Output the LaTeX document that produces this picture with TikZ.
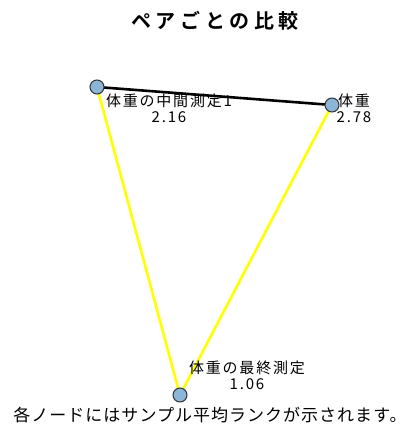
\documentclass[tikz,border=0pt]{standalone}
\usepackage{fontspec}
\setmainfont{Noto Sans CJK JP}
\newfontfamily\jpbold[LetterSpace=23]{Noto Sans CJK JP Bold}
\newfontfamily\jplbl[LetterSpace=12]{Noto Sans CJK JP}
\newfontfamily\jpfoot[LetterSpace=6]{Noto Sans CJK JP}
\definecolor{nodeblue}{HTML}{8CB6D8}
\definecolor{edgeyellow}{HTML}{FFFF00}
\begin{document}
\begin{tikzpicture}[x=1pt,y=-1pt,
  vert/.style={circle,draw=black!80,fill=nodeblue,line width=1pt,minimum size=14pt,inner sep=0pt},
  lbl/.style={align=center,font=\jplbl\fontsize{15}{16}\selectfont,inner sep=0pt},
  blackedge/.style={draw=black,line width=2.6pt},
  yellowedge/.style={draw=edgeyellow,line width=2.6pt}]
\useasboundingbox (0,0) rectangle (409,428);
\fill[white] (0,0) rectangle (409,428);
\node[font=\jpbold\fontsize{20}{22}\selectfont,inner sep=0pt] (title) at (215,21) {ペアごとの比較};
\coordinate (p1) at (97,87);
\coordinate (p2) at (332,105);
\coordinate (p3) at (180,395);
\draw[yellowedge] (p1) -- (p3);
\draw[yellowedge] (p2) -- (p3);
\draw[blackedge] (p1) -- (p2);
\node[vert] (n1) at (p1) {};
\node[vert] (n2) at (p2) {};
\node[vert] (n3) at (p3) {};
\node[lbl] (l1) at (169,108.5) {体重の中間測定1\\2.16};
\node[lbl] (l2) at (354,108.5) {体重\\2.78};
\node[lbl] (l3) at (247,375) {体重の最終測定\\1.06};
\node[font=\jpfoot\fontsize{17}{18}\selectfont,inner sep=0pt] (foot) at (210,415) {各ノードにはサンプル平均ランクが示されます。};
\end{tikzpicture}
\end{document}
